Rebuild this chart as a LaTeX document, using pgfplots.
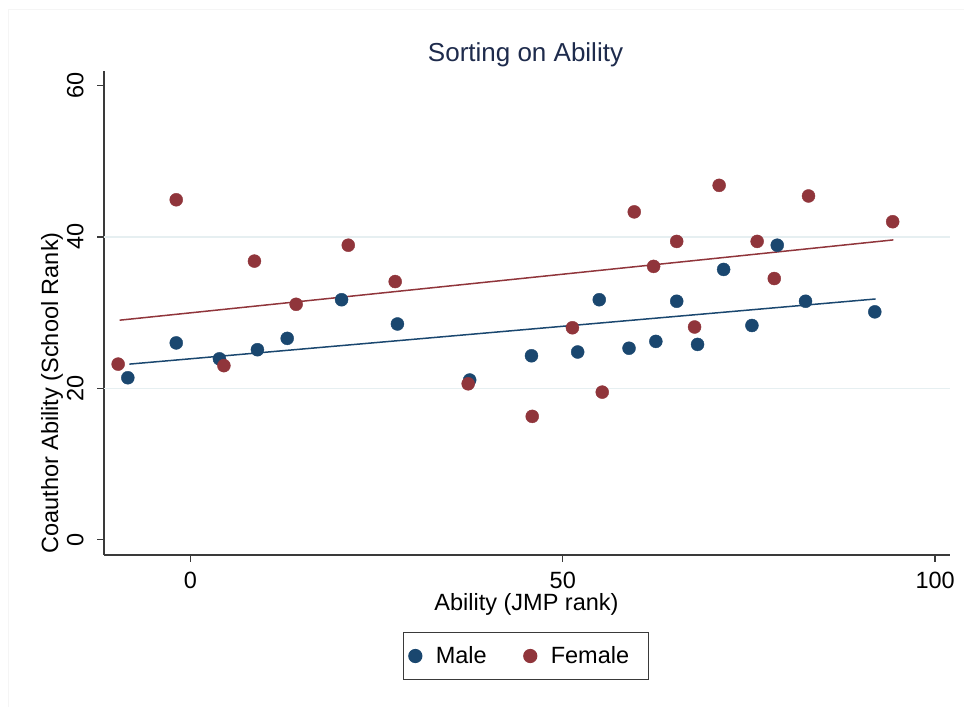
\documentclass[border=0pt]{standalone}
\usepackage{pgfplots}
\pgfplotsset{compat=1.18}
\usepackage{fontspec}
\setmainfont{Liberation Sans}
\definecolor{stblue}{HTML}{1A476F}
\definecolor{stred}{HTML}{90353B}
\definecolor{stgrid}{HTML}{E6EFF1}
\definecolor{sttitle}{HTML}{1E2B4C}
\definecolor{staxis}{HTML}{3A3A3A}
\begin{document}
\begin{tikzpicture}[x=1bp,y=1bp]
\useasboundingbox (0,0) rectangle (964,707);
% faint graph region frame
\draw[color=black!4, line width=1bp] (8,0) -- (8,697) -- (964,697);
\begin{axis}[
    at={(104bp,152bp)}, anchor=south west,
    scale only axis,
    width=846bp, height=484bp,
    xmin=-11.6, xmax=102,
    ymin=-2, ymax=61.9,
    axis x line*=bottom, axis y line*=left,
    axis line style={-, draw=staxis, line width=1.3bp},
    xtick={0,50,100},
    ytick={0,20,40,60},
    tick align=outside,
    major tick length=7bp,
    tick style={draw=staxis, line width=1.3bp},
    extra y ticks={20,40},
    extra y tick labels={},
    extra y tick style={grid=major, major tick length=0pt,
        major grid style={draw=stgrid, line width=1.5bp}},
    /pgf/number format/assume math mode=true,
    ticklabel style={font=\fontsize{23.5bp}{28bp}\selectfont},
    xticklabel style={yshift=-7bp},
    yticklabel style={xshift=-10bp, rotate=90, anchor=south},
    legend columns=2,
    legend style={at={(0.4988,-0.2087)}, anchor=center,
        draw=staxis, line width=1.2bp, fill=white,
        font=\fontsize{23.5bp}{28bp}\selectfont,
        inner xsep=5bp, inner ysep=12bp,
        nodes={inner xsep=14bp},
        /tikz/every even column/.append style={column sep=23bp}},
    legend cell align=left,
]
% fitted lines
\addplot[stred, line width=1.5bp, forget plot] coordinates {(-9.5,29.0) (94.4,39.6)};
\addplot[stblue, line width=1.5bp, forget plot] coordinates {(-8.2,23.2) (92.0,31.8)};
% Male
\addplot[only marks, mark=*, mark size=6.5bp, mark options={fill=stblue, draw=stblue}] coordinates {
(-8.4,21.4) (-1.9,26.0) (3.9,23.9) (9.0,25.1) (13.0,26.6) (20.3,31.7)
(27.8,28.5) (37.5,21.1) (45.8,24.3) (52.0,24.8) (54.9,31.7) (58.9,25.3)
(62.5,26.2) (65.3,31.5) (68.1,25.8) (71.6,35.7) (75.4,28.3) (78.8,38.9)
(82.6,31.5) (91.9,30.1)
};
\addlegendentry{Male}
% Female
\addplot[only marks, mark=*, mark size=6.5bp, mark options={fill=stred, draw=stred}] coordinates {
(-9.7,23.2) (-1.9,44.9) (4.5,23.0) (8.6,36.8) (14.2,31.1) (21.2,38.9)
(27.5,34.1) (37.3,20.6) (45.9,16.3) (51.3,28.0) (55.3,19.5) (59.6,43.3)
(62.2,36.1) (65.3,39.4) (67.7,28.1) (71.0,46.8) (76.1,39.4) (78.4,34.5)
(83.0,45.4) (94.3,42.0)
};
\addlegendentry{Female}
\end{axis}
\node[anchor=base, text=sttitle, font=\fontsize{26bp}{30bp}\selectfont, inner sep=0] at (525.5,645) {Sorting on Ability};
\node[anchor=base, font=\fontsize{23.5bp}{28bp}\selectfont, inner sep=0] at (526.5,96) {Ability (JMP rank)};
\node[anchor=base, rotate=90, font=\fontsize{23.5bp}{28bp}\selectfont, inner sep=0] at (58,314) {Coauthor Ability (School Rank)};
\end{tikzpicture}
\end{document}
